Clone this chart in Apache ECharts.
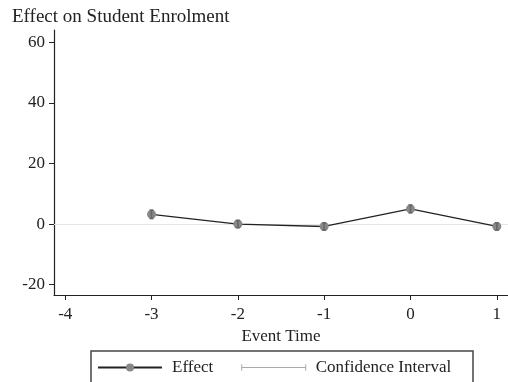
<!DOCTYPE html>
<html><head><meta charset="utf-8">
<script src="https://cdn.jsdelivr.net/npm/echarts@6/dist/echarts.min.js"></script>
<style>html,body{margin:0;padding:0;background:#fff}#c{width:508px;height:382px}</style>
</head><body><div id="c"></div>
<script>
var eventTime = [-3, -2, -1, 0, 1];
var effect = [3.2, 0, -0.8, 5, -0.8];
var ciLow = [1.8, -1.2, -2.0, 3.7, -2.0];
var ciHigh = [4.6, 1.2, 0.4, 6.3, 0.4];
var xTicks = [-4, -3, -2, -1, 0, 1];
var yTicks = [-20, 0, 20, 40, 60];

var FONT = 'Liberation Serif';
var chart = echarts.init(document.getElementById('c'));
chart.setOption({
  animation: false,
  backgroundColor: '#fff',
  title: {text: 'Effect on Student Enrolment', left: 7, top: 3,
    textStyle: {fontFamily: FONT, fontSize: 19, fontWeight: 'normal', color: '#222'}},
  grid: {left: 54, right: 0, top: 30, bottom: 87},
  xAxis: {type: 'value', min: -4.13, max: 1.13,
    name: 'Event Time', nameLocation: 'middle', nameGap: 30,
    nameTextStyle: {fontFamily: FONT, fontSize: 17, color: '#222'},
    axisLine: {onZero: false, lineStyle: {color: '#222', width: 1.2}},
    axisTick: {show: true, length: 5, customValues: xTicks, lineStyle: {color: '#222'}},
    axisLabel: {customValues: xTicks, fontFamily: FONT, fontSize: 17, color: '#222', margin: 11},
    splitLine: {show: false}},
  yAxis: {type: 'value', min: -23.4, max: 64,
    axisLine: {show: true, onZero: false, lineStyle: {color: '#222', width: 1.2}},
    axisTick: {show: true, length: 5, customValues: yTicks, lineStyle: {color: '#222'}},
    axisLabel: {customValues: yTicks, fontFamily: FONT, fontSize: 17, color: '#222', margin: 9},
    splitLine: {show: false}},
  graphic: [{type: 'rect', shape: {x: 91, y: 351, width: 382, height: 40},
    style: {fill: 'none', stroke: '#444', lineWidth: 1.5}, z: 100}],
  legend: {
    left: 97, top: 359,
    padding: [0, 0, 0, 0],
    itemGap: 26, itemWidth: 64, itemHeight: 10,
    textStyle: {fontFamily: FONT, fontSize: 17, color: '#222', padding: [0, 0, 0, 5]},
    data: [
      {name: 'Effect'},
      {name: 'Confidence Interval', icon: 'path://M0,0 L0,10 M0,5 L100,5 M100,0 L100,10',
       itemStyle: {color: 'none', borderColor: '#aaa', borderWidth: 1}}
    ]
  },
  series: [
    {name: 'Effect', type: 'line', z: 2,
      data: eventTime.map(function(t, i){ return [t, effect[i]]; }),
      symbol: 'circle', symbolSize: 9,
      lineStyle: {color: '#222', width: 1.3},
      itemStyle: {color: '#888'},
      markLine: {silent: true, symbol: 'none', label: {show: false},
        lineStyle: {color: '#e6e6e6', type: 'solid', width: 1},
        data: [{yAxis: 0}], z: 1}
    },
    {name: 'Confidence Interval', type: 'custom', z: 3,
      itemStyle: {color: '#aaa'},
      data: eventTime.map(function(t, i){ return [t, ciLow[i], ciHigh[i]]; }),
      renderItem: function(params, api){
        var lo = api.coord([api.value(0), api.value(1)]);
        var hi = api.coord([api.value(0), api.value(2)]);
        var w = 2;
        var st = {stroke: '#666', lineWidth: 1.5};
        return {type: 'group', children: [
          {type: 'line', shape: {x1: lo[0], y1: lo[1], x2: hi[0], y2: hi[1]}, style: st},
          {type: 'line', shape: {x1: lo[0]-w, y1: lo[1], x2: lo[0]+w, y2: lo[1]}, style: st},
          {type: 'line', shape: {x1: hi[0]-w, y1: hi[1], x2: hi[0]+w, y2: hi[1]}, style: st}
        ]};
      }
    }
  ]
});
</script></body></html>
